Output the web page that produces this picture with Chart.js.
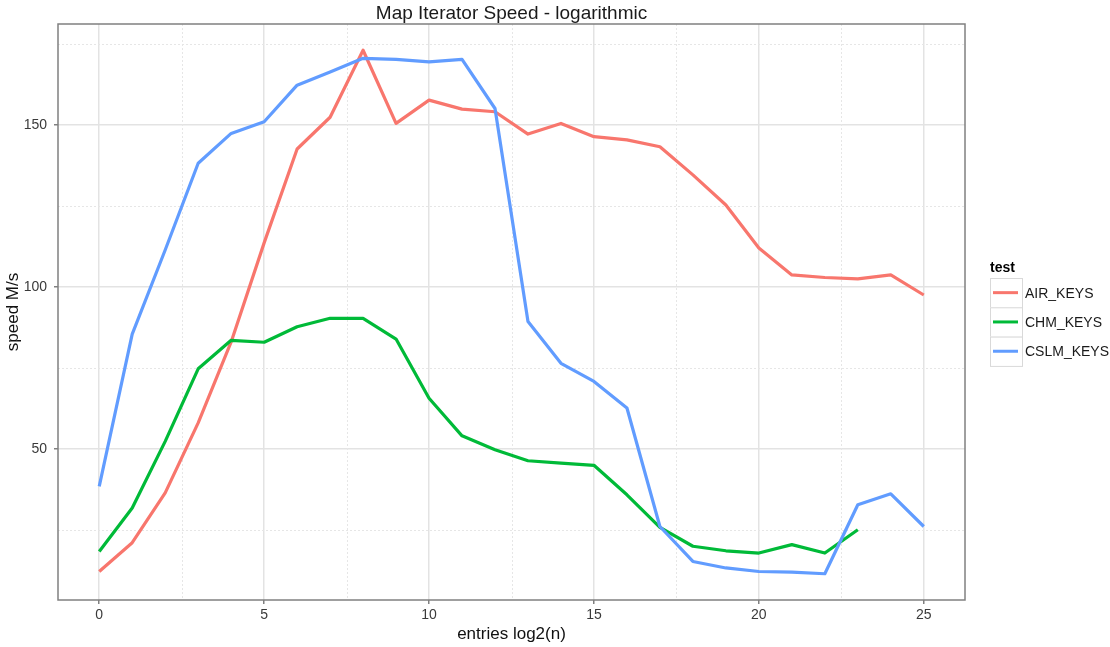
<!DOCTYPE html>
<html>
<head>
<meta charset="utf-8">
<title>Map Iterator Speed - logarithmic</title>
<script src="https://cdn.jsdelivr.net/npm/chart.js@4/dist/chart.umd.min.js"></script>
<style>
  html, body { margin: 0; padding: 0; background: #ffffff; }
  canvas { display: block; }
</style>
</head>
<body>
<canvas id="speedChart" width="1110" height="647"></canvas>
<script>
// entries log2(n)
const entries = [0, 1, 2, 3, 4, 5, 6, 7, 8, 9, 10, 11, 12, 13, 14, 15, 16, 17, 18, 19, 20, 21, 22, 23, 24, 25];

// speed M/s per map type
const airKeys  = [12.1, 21.0, 36.4, 58.0, 83.0, 113.6, 142.6, 152.4, 173.1, 150.5, 157.7, 154.9, 154.1,
                  147.2, 150.5, 146.4, 145.4, 143.3, 134.6, 125.3, 112.0, 103.7, 102.9, 102.5, 103.7, 97.5];
const chmKeys  = [18.3, 31.7, 52.3, 74.7, 83.5, 82.9, 87.7, 90.3, 90.3, 83.9, 65.6, 54.0, 49.7,
                  46.3, 45.6, 44.9, 35.8, 25.7, 19.9, 18.5, 17.8, 20.4, 17.8, 25.0];
const cslmKeys = [38.4, 85.4, 111.4, 138.2, 147.4, 151.0, 162.3, 166.4, 170.6, 170.3, 169.5, 170.3, 155.1,
                  89.3, 76.4, 70.8, 62.6, 26.0, 15.2, 13.2, 12.1, 11.9, 11.4, 32.7, 36.1, 26.0];

const seriesNames  = ['AIR_KEYS', 'CHM_KEYS', 'CSLM_KEYS'];
const seriesValues = [airKeys, chmKeys, cslmKeys];
const seriesColors = ['#F8766D', '#00BA38', '#619CFF'];

const xTicks = [0, 5, 10, 15, 20, 25];
const yTicks = [50, 100, 150];
const xMinorTicks = [2.5, 7.5, 12.5, 17.5, 22.5];
const yMinorTicks = [25, 75, 125, 175];

const FONT = '"Liberation Sans", Arial, Helvetica, sans-serif';

// ggplot-like panel: minor dotted grid, border, titles and a keyed legend
const ggDecor = {
  id: 'ggDecor',
  beforeDatasetsDraw(chart) {
    const { ctx, chartArea: a, scales } = chart;
    ctx.save();
    ctx.strokeStyle = '#e6e6e6';
    ctx.lineWidth = 1;
    ctx.setLineDash([2, 2]);
    xMinorTicks.forEach(v => {
      const px = Math.round(scales.x.getPixelForValue(v)) + 0.5;
      ctx.beginPath(); ctx.moveTo(px, a.top); ctx.lineTo(px, a.bottom); ctx.stroke();
    });
    yMinorTicks.forEach(v => {
      const py = Math.round(scales.y.getPixelForValue(v)) + 0.5;
      ctx.beginPath(); ctx.moveTo(a.left, py); ctx.lineTo(a.right, py); ctx.stroke();
    });
    ctx.restore();
  },
  afterDraw(chart) {
    const { ctx, chartArea: a } = chart;
    ctx.save();
    // panel border
    ctx.strokeStyle = '#808080';
    ctx.lineWidth = 1.5;
    ctx.strokeRect(a.left, a.top, a.right - a.left, a.bottom - a.top);

    const cx = (a.left + a.right) / 2;
    ctx.fillStyle = '#1a1a1a';
    ctx.textAlign = 'center';
    ctx.textBaseline = 'alphabetic';
    ctx.font = '19px ' + FONT;
    ctx.fillText('Map Iterator Speed - logarithmic', cx, 18.5);

    ctx.fillStyle = '#111111';
    ctx.font = '17px ' + FONT;
    ctx.fillText('entries log2(n)', cx, 639);

    ctx.save();
    ctx.translate(17.5, (a.top + a.bottom) / 2);
    ctx.rotate(-Math.PI / 2);
    ctx.fillText('speed M/s', 0, 0);
    ctx.restore();

    // legend
    const lx = 990, top = 278, keyW = 32, keyH = 29.3;
    ctx.textAlign = 'left';
    ctx.fillStyle = '#000000';
    ctx.font = 'bold 14px ' + FONT;
    ctx.fillText('test', lx, 271.5);
    chart.data.datasets.forEach((ds, i) => {
      const ky = top + i * keyH;
      ctx.fillStyle = '#ffffff';
      ctx.fillRect(lx, ky, keyW, keyH);
      ctx.strokeStyle = '#d9d9d9';
      ctx.lineWidth = 1;
      ctx.strokeRect(lx + 0.5, ky + 0.5, keyW, keyH);
      ctx.strokeStyle = ds.borderColor;
      ctx.lineWidth = 3;
      ctx.beginPath();
      ctx.moveTo(lx + 3, ky + keyH / 2);
      ctx.lineTo(lx + keyW - 4, ky + keyH / 2);
      ctx.stroke();
      ctx.fillStyle = '#1a1a1a';
      ctx.font = '14px ' + FONT;
      ctx.textBaseline = 'middle';
      ctx.fillText(ds.label, lx + 35, ky + keyH / 2 + 1);
      ctx.textBaseline = 'alphabetic';
    });
    ctx.restore();
  }
};

const datasets = seriesNames.map((name, i) => ({
  label: name,
  data: seriesValues[i].map((v, k) => ({ x: entries[k], y: v })),
  borderColor: seriesColors[i],
  backgroundColor: seriesColors[i],
  borderWidth: 3.2,
  pointRadius: 0,
  pointHoverRadius: 0,
  tension: 0,
  fill: false,
  borderJoinStyle: 'round',
  order: seriesNames.length - i
}));

new Chart(document.getElementById('speedChart'), {
  type: 'line',
  data: { datasets },
  plugins: [ggDecor],
  options: {
    responsive: false,
    animation: false,
    events: [],
    layout: { padding: { left: 0, top: 24, right: 145, bottom: 0 } },
    plugins: {
      legend: { display: false },
      title: { display: false },
      tooltip: { enabled: false }
    },
    scales: {
      x: {
        type: 'linear',
        min: -1.25,
        max: 26.25,
        afterBuildTicks: s => { s.ticks = xTicks.map(v => ({ value: v })); },
        afterFit: s => { s.height = 47; },
        grid: { color: '#e3e3e3', lineWidth: 1.5, drawTicks: true, tickLength: 4, tickColor: '#808080', tickWidth: 1.5 },
        border: { display: false },
        ticks: { color: '#3a3a3a', font: { family: FONT, size: 14 }, padding: 3, maxRotation: 0 }
      },
      y: {
        type: 'linear',
        min: 3.3,
        max: 181.2,
        afterBuildTicks: s => { s.ticks = yTicks.map(v => ({ value: v })); },
        afterFit: s => { s.width = 58; },
        grid: { color: '#e3e3e3', lineWidth: 1.5, drawTicks: true, tickLength: 4, tickColor: '#808080', tickWidth: 1.5 },
        border: { display: false },
        ticks: { color: '#3a3a3a', font: { family: FONT, size: 14 }, padding: 7 }
      }
    }
  }
});
</script>
</body>
</html>
